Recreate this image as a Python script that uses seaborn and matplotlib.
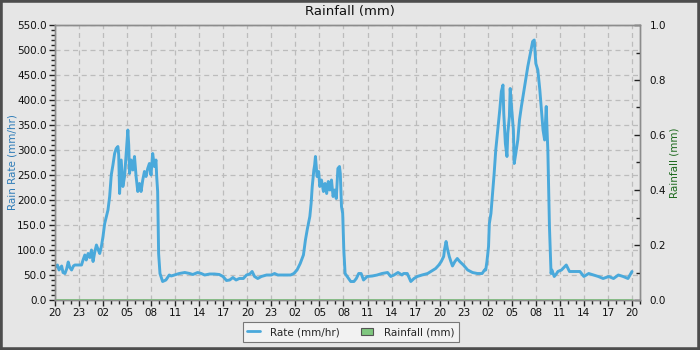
import pandas as pd
import matplotlib
matplotlib.use('Agg')
import matplotlib.pyplot as plt
import seaborn as sns
from matplotlib.ticker import MultipleLocator, FormatStrFormatter
from matplotlib.patches import Patch, Rectangle
from matplotlib.lines import Line2D

# hours counted from 20:00 on the first day, rain rate in mm/hr
rate_hours = [
    0.0, 0.3, 0.5, 0.83, 1.0, 1.24, 1.45, 1.65, 1.85, 2.07, 2.3, 2.48, 2.9, 3.31, 3.5,
    3.72, 3.9, 4.13, 4.35, 4.55, 4.75, 4.95, 5.17, 5.4, 5.58, 5.8, 5.99, 6.2, 6.61, 6.82,
    7.02, 7.23, 7.44, 7.64, 7.85, 7.95, 8.06, 8.26, 8.47, 8.68, 8.88, 9.09, 9.2, 9.3, 9.5,
    9.71, 9.92, 10.12, 10.33, 10.54, 10.74, 10.95, 11.16, 11.36, 11.57, 11.78, 11.98, 12.19,
    12.4, 12.6, 12.69, 12.81, 12.93, 13.1, 13.43, 13.84, 14.26,
    14.5, 15.1, 15.5, 16.2, 16.8, 17.2, 17.8, 18.25, 18.67, 19.3, 19.9, 20.5, 20.96, 21.4,
    21.8, 22.2, 22.6, 23.0, 23.5, 23.9, 24.3, 24.6, 24.9, 25.3, 25.75, 26.4, 27.0, 27.4,
    27.8, 28.5, 29.1, 29.4, 29.8,
    30.2, 30.6, 31.0, 31.25, 31.5, 31.8, 31.96, 32.1, 32.3, 32.4, 32.5, 32.6, 32.7, 32.9,
    33.04, 33.25, 33.5, 33.7, 33.9, 34.1, 34.3, 34.5, 34.7, 34.9, 35.1, 35.3, 35.5, 35.6,
    35.75, 35.9, 36.04, 36.2, 36.46, 36.9, 37.3, 37.6, 37.9, 38.2, 38.5, 38.96, 39.6, 40.2,
    40.8, 41.5, 41.9, 42.3, 42.8, 43.3, 43.5,
    43.96, 44.4, 44.8, 45.2, 45.8, 46.5, 47.1, 47.5, 47.9, 48.2, 48.5, 48.6, 48.8, 48.96,
    49.2, 49.4, 49.6, 49.9, 50.2, 50.5, 50.96, 51.5, 52.1, 52.7, 53.3,
    53.6, 53.75, 53.9, 54.1, 54.2, 54.4, 54.6, 54.8, 55.0, 55.25, 55.5, 55.7, 55.9, 56.0,
    56.2, 56.4, 56.5, 56.7, 56.8, 57.0, 57.2, 57.3, 57.5, 57.75, 57.96, 58.2, 58.4, 58.6,
    58.8, 59.0, 59.2, 59.4, 59.6, 59.8, 60.0, 60.25, 60.5, 60.7, 60.9, 61.1, 61.3, 61.4,
    61.5, 61.7, 61.9, 62.0, 62.3, 62.6, 62.75, 63.2, 63.8, 64.2, 64.9, 65.5, 66.0, 66.6,
    67.2, 67.8, 68.4, 69.1, 69.7, 70.3, 70.9, 71.5, 72.0,
]
rate_mmhr = [
    65, 70, 60, 68, 55, 53, 62, 76, 65, 60, 68, 70, 70, 70, 80,
    90, 80, 93, 85, 100, 77, 95, 110, 100, 93, 108, 127, 153, 180, 207,
    250, 270, 293, 303, 307, 290, 213, 280, 227, 247, 293, 340, 310, 253, 280,
    260, 287, 247, 217, 233, 217, 240, 257, 247, 263, 273, 250, 293,
    267, 280, 247, 217, 93, 53, 37, 40, 50,
    48, 51, 53, 55, 53, 51, 55, 53, 50, 52, 52, 51, 47, 39,
    40, 45, 40, 43, 43, 50, 52, 57, 47, 43, 47, 50, 50, 53,
    50, 50, 50, 50, 53,
    60, 73, 90, 120, 143, 167, 193, 227, 260, 270, 287, 267, 247, 257,
    227, 240, 217, 233, 213, 237, 220, 240, 207, 220, 203, 263, 267, 253,
    187, 173, 100, 53, 47, 37, 37, 43, 53, 53, 40, 47, 48, 50,
    53, 55, 47, 50, 55, 50, 53,
    53, 37, 43, 47, 50, 53, 59, 63, 70, 77, 87, 100, 117, 103,
    87, 77, 68, 77, 83, 77, 70, 60, 55, 53, 53,
    60, 60, 77, 107, 153, 173, 213, 253, 300, 340, 380, 417, 430, 373,
    313, 287, 333, 367, 423, 380, 340, 273, 293, 320, 360, 387, 407, 427,
    447, 467, 483, 500, 517, 520, 473, 460, 420, 380, 340, 320, 387, 340,
    300, 147, 53, 60, 47, 53, 57, 60, 70, 57, 57, 57, 47, 53,
    50, 47, 43, 47, 43, 50, 47, 43, 57,
]

# rainfall total stayed at zero for the whole period
rain_hours = [0, 6, 12, 18, 24, 30, 36, 42, 48, 54, 60, 66, 72]
rain_mm = [0.0, 0.0, 0.0, 0.0, 0.0, 0.0, 0.0, 0.0, 0.0, 0.0, 0.0, 0.0, 0.0]

tick_hours = list(range(0, 73, 3))
tick_labels = ['20', '23', '02', '05', '08', '11', '14', '17',
               '20', '23', '02', '05', '08', '11', '14', '17',
               '20', '23', '02', '05', '08', '11', '14', '17', '20']

df_rate = pd.DataFrame({'hour': rate_hours, 'rate': rate_mmhr})
df_rain = pd.DataFrame({'hour': rain_hours, 'rain': rain_mm})

bg = '#e6e6e6'
blue = '#4aa9db'
green = '#7fc77f'

sns.set_style('whitegrid', {
    'axes.facecolor': bg,
    'figure.facecolor': bg,
    'grid.color': '#bcbcbc',
    'grid.linestyle': (0, (4, 3)),
    'axes.edgecolor': '#8c8c8c',
})
plt.rcParams['font.family'] = ['DejaVu Sans']

fig = plt.figure(figsize=(7, 3.5), dpi=100)
ax = fig.add_axes([55 / 700, 50 / 350, 585 / 700, 275 / 350])

sns.lineplot(data=df_rate, x='hour', y='rate', ax=ax, color=blue, linewidth=2.1)

ax.set_xlim(0, 73)
ax.set_ylim(0, 550)
ax.yaxis.set_major_locator(MultipleLocator(50))
ax.yaxis.set_minor_locator(MultipleLocator(10))
ax.yaxis.set_major_formatter(FormatStrFormatter('%.1f'))
ax.set_xticks(tick_hours)
ax.set_xticklabels(tick_labels)
ax.xaxis.set_minor_locator(MultipleLocator(1))
ax.tick_params(axis='both', which='major', labelsize=7.5, length=4, width=1,
               color='#222222', labelcolor='#111111', pad=2)
ax.tick_params(axis='both', which='minor', length=3, width=1, color='#222222')
ax.tick_params(axis='x', which='both', bottom=True)
ax.tick_params(axis='y', which='both', left=True)
ax.grid(True, which='major', linewidth=0.9)
ax.set_xlabel('')
ax.set_ylabel('Rain Rate (mm/hr)', color='#2e7cb8', fontsize=7.5, labelpad=0)
for s in ax.spines.values():
    s.set_linewidth(1)

ax2 = ax.twinx()
sns.lineplot(data=df_rain, x='hour', y='rain', ax=ax2, color=green, linewidth=2)
ax2.set_ylim(0, 1.0)
ax2.set_xlim(0, 73)
ax2.grid(False)
ax2.yaxis.set_major_locator(MultipleLocator(0.2))
ax2.yaxis.set_minor_locator(MultipleLocator(0.1))
ax2.yaxis.set_major_formatter(FormatStrFormatter('%.1f'))
ax2.tick_params(axis='y', which='major', direction='in', length=4, width=1,
                labelsize=7.5, color='#222222', labelcolor='#111111', pad=7, right=True)
ax2.tick_params(axis='y', which='minor', direction='in', length=3, width=1,
                color='#222222', right=True)
ax2.set_ylabel('Rainfall (mm)', color='#1f6b1f', fontsize=7.5, labelpad=2)
for s in ax2.spines.values():
    s.set_linewidth(1)
    s.set_color('#8c8c8c')

fig.text(0.5, 1 - 12 / 350, 'Rainfall (mm)', ha='center', va='center',
         fontsize=9.5, color='#111111')

handles = [Line2D([0], [0], color=blue, linewidth=2),
           Patch(facecolor=green, edgecolor='#555555', linewidth=0.8)]
leg = fig.legend(handles, ['Rate (mm/hr)', 'Rainfall (mm)'], loc='lower center',
                 bbox_to_anchor=(0.501, 3 / 350), ncol=2, fontsize=7.5, frameon=True,
                 fancybox=False, edgecolor='#777777', facecolor='#f2f2f2',
                 handlelength=1.2, handleheight=0.7, columnspacing=2.0,
                 borderpad=0.45, handletextpad=1.0)
leg.get_frame().set_linewidth(0.8)
leg.get_frame().set_alpha(1)

fig.patches.append(Rectangle((0, 0), 1, 1, transform=fig.transFigure, fill=False,
                             edgecolor='#4d4d4d', linewidth=4, zorder=10))

fig.savefig('out.png', dpi=100, facecolor=bg)
